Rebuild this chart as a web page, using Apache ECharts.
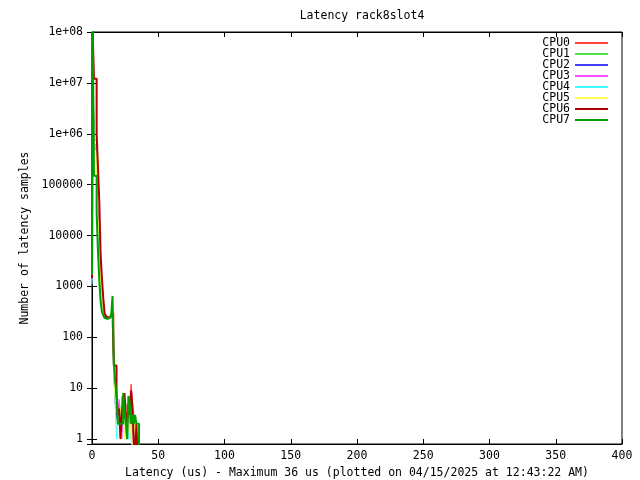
<!DOCTYPE html>
<html><head><meta charset="utf-8">
<script src="https://cdn.jsdelivr.net/npm/echarts@6/dist/echarts.min.js"></script>
<style>html,body{margin:0;padding:0;background:#fff}#c{width:640px;height:480px}</style>
</head><body><div id="c"></div>
<script>
// latency bins (us)
const latency = [];
for (let i = 0; i <= 36; i++) latency.push(i);
const cpuNames = ['CPU0','CPU1','CPU2','CPU3','CPU4','CPU5','CPU6','CPU7'];
const CPU0 = [1400, 9.0e7, 6.0e5, 6.0e5, 1.3e5, 2.2e4, 4000, 1000, 400, 290, 250, 240, 230, 240, 260, 280, 300, 25, 5, 6, 4, 3, 2, 4, 6, 3, 5, 2, 4, 5, 12, 6, 3, 1, 0, 0, 0];
const CPU1 = [1600, 9.5e7, 7.5e5, 7.5e5, 1.4e5, 2.6e4, 5000, 1100, 420, 300, 260, 240, 250, 240, 250, 270, 320, 20, 7, 4, 5, 2, 3, 7, 2, 4, 3, 1, 2, 5, 3, 1, 0, 0, 0, 0, 0];
const CPU2 = [1200, 9.0e7, 5.0e5, 5.0e5, 1.2e5, 2.4e4, 4500, 900, 380, 280, 240, 230, 240, 250, 250, 260, 300, 18, 6, 3, 2, 4, 1, 3, 2, 5, 2, 1, 3, 2, 4, 1, 2, 0, 0, 0, 0];
const CPU3 = [1300, 9.2e7, 5.5e5, 5.5e5, 1.3e5, 2.0e4, 3500, 800, 350, 270, 250, 240, 230, 240, 260, 270, 290, 22, 5, 4, 3, 6, 2, 1, 3, 5, 2, 4, 1, 3, 2, 1, 0, 0, 2, 0, 1];
const CPU4 = [1100, 8.8e7, 4.8e5, 4.8e5, 1.1e5, 1.8e4, 3000, 850, 360, 270, 240, 230, 240, 240, 250, 260, 280, 15, 5, 1, 2, 3, 1, 2, 4, 1, 2, 3, 1, 2, 1, 0, 1, 0, 0, 0, 0];
const CPU5 = [1500, 9.3e7, 4.2e5, 4.2e5, 1.0e5, 2.3e4, 6800, 1200, 450, 320, 270, 250, 240, 250, 260, 280, 310, 20, 6, 5, 3, 2, 4, 2, 3, 1, 4, 2, 3, 1, 2, 0, 3, 1, 0, 0, 0];
const CPU6 = [1450, 1.0e8, 1.2e7, 1.2e7, 1.0e6, 2.2e5, 4.6e4, 4300, 1450, 590, 300, 260, 240, 250, 260, 280, 310, 28, 28, 8, 3, 4, 1, 3, 6, 8, 3, 2, 5, 3, 9, 4, 1, 0, 2, 0, 0];
const CPU7 = [1700, 1.2e8, 1.5e5, 1.5e5, 2.8e4, 5000, 1300, 500, 320, 270, 240, 230, 240, 240, 250, 280, 650, 30, 13, 8, 2, 2, 2, 2, 8, 4, 2, 1, 7, 5, 2, 3, 2, 3, 2, 2, 0];
const cpuData = [CPU0, CPU1, CPU2, CPU3, CPU4, CPU5, CPU6, CPU7];
const xTicks = [0, 50, 100, 150, 200, 250, 300, 350, 400];
const yTicks = [1, 10, 100, 1000, 10000, 100000, 1e6, 1e7, 1e8];

const colors = ['#ff4040','#50e050','#4040ff','#ff50ff','#40ffff','#ffff50','#b00000','#00a000'];
const widths = [1,1,1,1,1,1,2,2];
const FONT = 'DejaVu Sans Mono';
const YMIN = 0.8, YMAX = 1e8;
const ZERO_FLOOR = 0.4; // zero counts fall below the axis floor (clipped), as in gnuplot

const chart = echarts.init(document.getElementById('c'), null, {renderer: 'canvas'});
const yFmt = v => {
  const e = Math.log10(v);
  if (Math.abs(e - Math.round(e)) > 1e-6) return '';
  const r = Math.round(e);
  if (r < 0) return '';
  return r >= 6 ? '1e+0' + r : String(Math.round(v));
};
const axisCommon = {
  axisLine: {lineStyle: {color: '#000', width: 1}},
  axisTick: {inside: true, length: 5, lineStyle: {color: '#000'}},
  splitLine: {show: false},
};
chart.setOption({
  animation: false,
  backgroundColor: '#fff',
  title: {text: 'Latency rack8slot4', left: 357, top: 5, textAlign: 'center',
    textStyle: {fontFamily: FONT, fontSize: 11.5, fontWeight: 'normal', color: '#000'}},
  legend: {orient: 'vertical', right: 32, top: 37, padding: 0, align: 'right', icon: 'rect',
    itemWidth: 33, itemHeight: 2, itemGap: -1, data: cpuNames,
    textStyle: {fontFamily: FONT, fontSize: 11.5, color: '#000'}},
  grid: {left: 92, right: 18, top: 32, bottom: 36, show: true, borderColor: '#000', borderWidth: 1,
    containLabel: false, outerBoundsMode: 'none'},
  xAxis: [
    Object.assign({type: 'value', min: xTicks[0], max: xTicks[xTicks.length-1], interval: 50,
      name: 'Latency (us) - Maximum 36 us (plotted on 04/15/2025 at 12:43:22 AM)',
      nameLocation: 'middle', nameGap: 15,
      nameTextStyle: {fontFamily: FONT, fontSize: 11.5, color: '#000'},
      axisLabel: {fontFamily: FONT, fontSize: 11.5, color: '#000', margin: 6}}, axisCommon),
    Object.assign({type: 'value', position: 'top', min: xTicks[0], max: xTicks[xTicks.length-1], interval: 50,
      axisLabel: {show: false}}, axisCommon)
  ],
  yAxis: [
    Object.assign({type: 'log', min: YMIN, max: YMAX, logBase: 10,
      name: 'Number of latency samples', nameLocation: 'middle', nameGap: 58, nameRotate: 90,
      nameTextStyle: {fontFamily: FONT, fontSize: 11.5, color: '#000'},
      axisLabel: {fontFamily: FONT, fontSize: 11.5, color: '#000', margin: 9, formatter: yFmt,
        showMinLabel: false}}, axisCommon),
    Object.assign({type: 'log', min: YMIN, max: YMAX, logBase: 10, position: 'right',
      axisLabel: {show: false}}, axisCommon)
  ],
  series: cpuData.map((arr, i) => ({
    name: cpuNames[i], type: 'line', step: 'middle', showSymbol: false, symbol: 'none',
    clip: true, color: colors[i],
    lineStyle: {color: colors[i], width: widths[i]},
    data: arr.map((v, j) => [latency[j], v === 0 ? ZERO_FLOOR : v])
  }))
});
</script></body></html>
